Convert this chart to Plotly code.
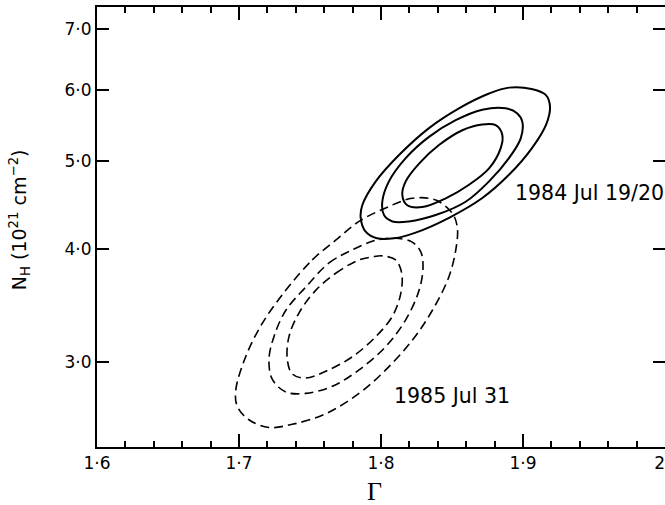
import plotly.graph_objects as go

# 1984 Jul 19/20 confidence contours (solid), photon index vs N_H (1e21 cm^-2)
g84_outer = [1.8549, 1.8338, 1.8127, 1.7963, 1.7868, 1.7857, 1.7892, 1.7972, 1.8092, 1.8244,
             1.8479, 1.8711, 1.8901, 1.9063, 1.9165, 1.9190, 1.9160, 1.9060, 1.8901, 1.8761]
n84_outer = [5.72, 5.44, 5.08, 4.75, 4.47, 4.33, 4.18, 4.11, 4.11, 4.17,
             4.33, 4.55, 4.83, 5.17, 5.50, 5.75, 5.92, 6.01, 6.03, 5.94]
g84_mid = [1.8338, 1.8526, 1.8713, 1.8878, 1.8958, 1.8995, 1.8984, 1.8901, 1.8761, 1.8596,
           1.8385, 1.8197, 1.8080, 1.8021, 1.8009, 1.8056, 1.8174]
n84_mid = [5.32, 5.55, 5.70, 5.72, 5.65, 5.53, 5.30, 5.04, 4.75, 4.51,
           4.36, 4.29, 4.29, 4.36, 4.51, 4.75, 5.04]
g84_inner = [1.8408, 1.8573, 1.8713, 1.8808, 1.8854, 1.8843, 1.8761, 1.8620, 1.8456, 1.8291,
             1.8185, 1.8150, 1.8174, 1.8268]
n84_inner = [5.21, 5.41, 5.49, 5.48, 5.35, 5.17, 4.91, 4.71, 4.55, 4.45,
             4.47, 4.59, 4.75, 4.97]

# 1985 Jul 31 confidence contours (dashed)
g85_outer = [1.7329, 1.7516, 1.7681, 1.7845, 1.8033, 1.8220, 1.8385, 1.8502, 1.8537, 1.8530,
             1.8479, 1.8361, 1.8220, 1.8033, 1.7845, 1.7611, 1.7375, 1.7211, 1.7070, 1.6988,
             1.6977, 1.7047, 1.7164]
n85_outer = [3.60, 3.89, 4.09, 4.29, 4.44, 4.55, 4.53, 4.38, 4.23, 4.02,
             3.73, 3.42, 3.17, 2.94, 2.77, 2.63, 2.56, 2.54, 2.59, 2.68,
             2.79, 3.04, 3.31]
g85_mid = [1.7470, 1.7634, 1.7798, 1.7963, 1.8103, 1.8220, 1.8280, 1.8296, 1.8268, 1.8174,
           1.8033, 1.7845, 1.7657, 1.7470, 1.7329, 1.7235, 1.7211, 1.7246, 1.7329]
n85_mid = [3.63, 3.86, 3.99, 4.09, 4.11, 4.07, 3.97, 3.82, 3.60, 3.34,
           3.12, 2.94, 2.82, 2.77, 2.78, 2.87, 3.02, 3.20, 3.42]
g85_inner = [1.7540, 1.7681, 1.7845, 1.7939, 1.8009, 1.8103, 1.8146, 1.8139, 1.8080, 1.7963,
             1.7798, 1.7611, 1.7470, 1.7375, 1.7340, 1.7352, 1.7423]
n85_inner = [3.60, 3.76, 3.89, 3.92, 3.93, 3.89, 3.76, 3.57, 3.37, 3.20,
             3.04, 2.93, 2.88, 2.91, 3.02, 3.20, 3.40]

x_tickvals = [1.6, 1.7, 1.8, 1.9, 2.0]
x_ticktext = ["1·6", "1·7", "1·8", "1·9", "2\u00a0\u00a0"]
y_tickvals = [3, 4, 5, 6, 7]
y_ticktext = ["3·0", "4·0", "5·0", "6·0", "7·0"]

label_84 = "1984 Jul 19/20"
label_85 = "1985 Jul 31"

fig = go.Figure()

def closed(a):
    return list(a) + [a[0]]

for g, n in [(g84_outer, n84_outer), (g84_mid, n84_mid), (g84_inner, n84_inner)]:
    fig.add_trace(go.Scatter(x=closed(g), y=closed(n), mode="lines",
                             line=dict(color="black", width=2, shape="spline", smoothing=1.0),
                             showlegend=False, hoverinfo="skip"))
for g, n in [(g85_outer, n85_outer), (g85_mid, n85_mid), (g85_inner, n85_inner)]:
    fig.add_trace(go.Scatter(x=closed(g), y=closed(n), mode="lines",
                             line=dict(color="black", width=1.6, shape="spline", smoothing=1.0,
                                       dash="9px,5px"),
                             showlegend=False, hoverinfo="skip"))

# invisible trace to activate right-side y axis
fig.add_trace(go.Scatter(x=[1.8], y=[4], yaxis="y2", mode="markers",
                         marker=dict(opacity=0), showlegend=False, hoverinfo="skip"))

yrange = [0.3832, 0.8694]
tfont = dict(family="DejaVu Sans", size=17, color="black")

fig.update_layout(
    width=665, height=505,
    font=dict(family="DejaVu Sans", size=17, color="black"),
    margin=dict(l=97, r=0, t=7, b=58),
    paper_bgcolor="white", plot_bgcolor="white",
    xaxis=dict(range=[1.6, 2.0], tickmode="array", tickvals=x_tickvals, ticktext=x_ticktext,
               ticks="inside", ticklen=13, tickwidth=1.5, tickcolor="black",
               minor=dict(dtick=0.02, ticks="inside", ticklen=6, tickwidth=1.5, tickcolor="black"),
               showline=True, linewidth=2, linecolor="black", mirror="ticks",
               ticklabeloverflow="allow", automargin=False,
               showgrid=False, zeroline=False, tickfont=tfont),
    yaxis=dict(type="log", range=yrange, tickmode="array", tickvals=y_tickvals, ticktext=y_ticktext,
               ticks="inside", ticklen=12, tickwidth=1.5, tickcolor="black",
               showline=True, linewidth=2, linecolor="black", automargin=False,
               showgrid=False, zeroline=False, tickfont=tfont),
    yaxis2=dict(type="log", range=yrange, overlaying="y", side="right",
                tickmode="array", tickvals=y_tickvals, showticklabels=False,
                ticks="inside", ticklen=12, tickwidth=1.5, tickcolor="black", automargin=False,
                showline=False, showgrid=False, zeroline=False),
    annotations=[
        dict(text=label_84, xref="paper", yref="paper", x=0.7324, y=0.5773,
             xanchor="left", yanchor="middle", showarrow=False,
             font=dict(family="DejaVu Sans", size=20.5, color="black")),
        dict(text=label_85, xref="paper", yref="paper", x=0.5188, y=0.117,
             xanchor="left", yanchor="middle", showarrow=False,
             font=dict(family="DejaVu Sans", size=20.5, color="black")),
        dict(text="Γ", xref="paper", yref="paper", x=0.4886, y=-0.10,
             xanchor="center", yanchor="middle", showarrow=False,
             font=dict(family="Liberation Serif", size=26, color="black")),
        dict(text="N<sub>H</sub> (10<sup>21</sup> cm<sup>−2</sup>)", xref="paper", yref="paper",
             x=-0.135, y=0.516, xanchor="center", yanchor="middle", textangle=-90,
             showarrow=False, font=dict(family="DejaVu Sans", size=19, color="black")),
    ],
)

fig.write_html("out.html")
